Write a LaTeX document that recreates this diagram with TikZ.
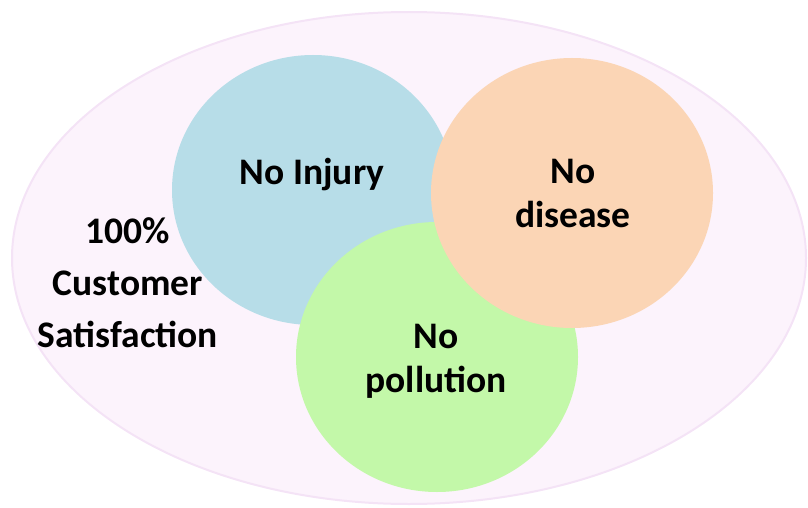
\documentclass[tikz,border=0pt]{standalone}
\usepackage{fontspec}
\setmainfont{Carlito}
\usepackage{xcolor}
\usetikzlibrary{shapes,positioning}

\definecolor{satpink}{HTML}{FCF3FC}
\definecolor{satedge}{HTML}{F4E3F6}
\definecolor{injblue}{HTML}{B7DDE8}
\definecolor{disorange}{HTML}{FBD5B5}
\definecolor{polgreen}{HTML}{C3F8A9}

\begin{document}
\begin{tikzpicture}[x=1pt,y=-1pt,
    bubble/.style={ellipse,minimum width=282pt,minimum height=270pt,inner sep=0pt},
    lbl/.style={font=\bfseries\fontsize{37.5}{44}\selectfont,align=center}]
    \useasboundingbox (0,0) rectangle (808,508);
    \node[ellipse,draw=satedge,line width=2pt,fill=satpink,minimum width=794pt,minimum height=492pt] (sat) at (409,258) {};
    \node[bubble,fill=injblue] (injury) at (313,190) {};
    \node[bubble,fill=polgreen] (pollution) at (437,357) {};
    \node[bubble,fill=disorange] (disease) at (572,193) {};
    \node[lbl,anchor=base] (injurytxt) at (312,184) {No Injury};
    \node[lbl] (diseasetxt) at (573,193) {No\\disease};
    \node[lbl] (pollutiontxt) at (436,361) {No\\pollution};
    \node[lbl,font=\bfseries\fontsize{37.5}{52}\selectfont] (sattxt) at (128,283) {100\%\\Customer\\Satisfaction};
\end{tikzpicture}
\end{document}
